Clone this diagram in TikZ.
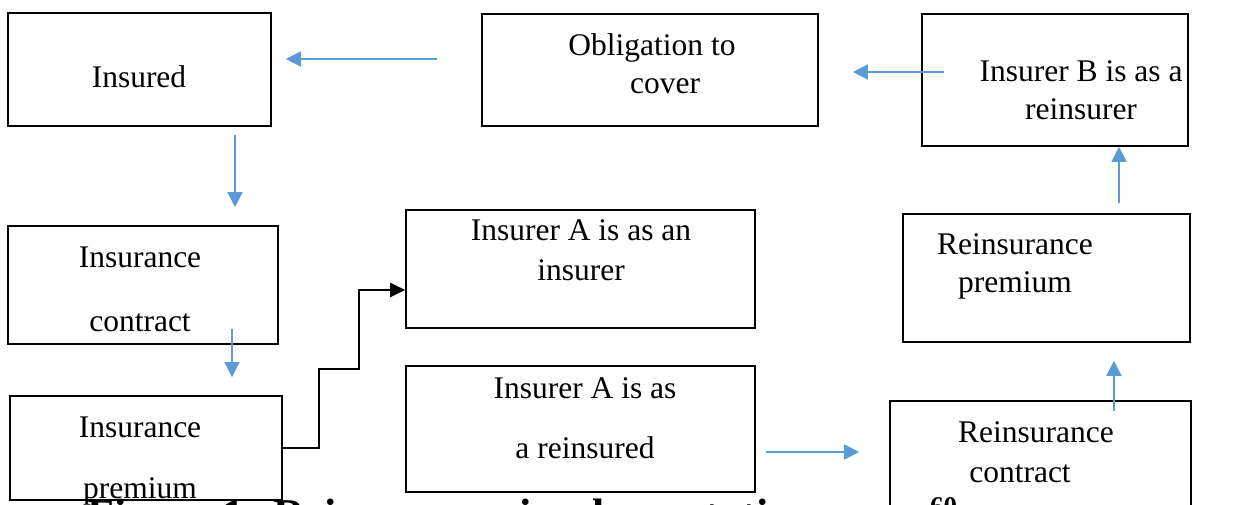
\documentclass[tikz,border=0pt]{standalone}
\usepackage{fontspec}
\setmainfont{Liberation Serif}
\usepackage{tikz}
\usetikzlibrary{shapes,arrows.meta}
\definecolor{arrowblue}{HTML}{5B9BD5}
\tikzstyle{block} = [rectangle, draw, line width=1.6pt, inner sep=0pt]
\tikzstyle{words} = [align=center, anchor=base, font=\fontsize{31.5}{38.5}\selectfont]
\tikzstyle{caption} = [anchor=base west, inner sep=0pt, font=\fontsize{44}{50}\selectfont\bfseries]
\tikzstyle{line} = [draw, arrowblue, line width=1.4pt, -{Triangle[length=15pt,width=15pt]}]
\tikzstyle{stepline} = [draw, black, line width=2.2pt, -{Triangle[length=15pt,width=14pt]}]

\begin{document}
\begin{tikzpicture}[x=1pt, y=-1pt]
    \useasboundingbox (0,0) rectangle (1243,505);
    \clip (0,0) rectangle (1243,505);
    % Place boxes
    \node [block, minimum width=263pt, minimum height=113pt] (insured) at (139.5,69.5) {};
    \node [block, minimum width=336pt, minimum height=112pt] (oblig) at (650,70) {};
    \node [block, minimum width=266pt, minimum height=132pt] (insB) at (1055,80) {};
    \node [block, minimum width=270pt, minimum height=118pt] (icontract) at (143,285) {};
    \node [block, minimum width=349pt, minimum height=118pt] (insA) at (580.5,269) {};
    \node [block, minimum width=287pt, minimum height=128pt] (rpremium) at (1046.5,278) {};
    \node [block, minimum width=272pt, minimum height=104pt] (ipremium) at (146,448) {};
    \node [block, minimum width=349pt, minimum height=126pt] (reinsured) at (580.5,429) {};
    \node [block, minimum width=301pt, minimum height=139pt] (rcontract) at (1040.5,470.5) {};

    % Place texts (base = last line)
    \node [words] (insured-txt) at (139,88) {Insured};
    \node [words] (oblig-txt) at (652,94) {Obligation to\\\hspace*{26pt}cover};
    \node [words] (insB-txt) at (1081,120) {Insurer B is as a\\reinsurer};
    \node [words] (icontract-txt) at (140,331) {Insurance\\[25.5pt]contract};
    \node [words] (insA-txt) at (581,281) {Insurer A is as an\\[1.5pt]insurer};
    \node [words] (rpremium-txt) at (1015,292) {Reinsurance\\[-1.5pt]premium};
    \node [words] (ipremium-txt) at (140,498) {Insurance\\[22.5pt]premium};
    \node [words] (reinsured-txt) at (585,458) {Insurer A is as\\[21.5pt]a reinsured};
    \node [words] (rcontract-txt) at (1036,482) {Reinsurance\\[1.5pt]contract\hspace*{32pt}};
    \node [caption] (fig-txt) at (87,529) {Figure 1: Reinsurance implementation};
    \node [caption, font=\fontsize{27}{30}\selectfont\bfseries] (note-txt) at (930,515) {60};

    % Connectors
    \path [line] ([yshift=11pt]oblig.west) ++(-44,0) -- ([xshift=14pt,yshift=10.5pt]insured.east);
    \path [line] ([xshift=23pt,yshift=8pt]insB.west) -- ([xshift=34pt,yshift=-2pt]oblig.east);
    \path [line] ([xshift=95.5pt,yshift=-8pt]insured.south) -- ([xshift=92pt,yshift=18pt]icontract.north);
    \path [line] ([xshift=89pt,yshift=16pt]icontract.south) -- ([xshift=86pt,yshift=18pt]ipremium.north);
    \path [line] ([xshift=72.5pt,yshift=10pt]rpremium.north) -- ([xshift=64pt]insB.south);
    \path [line] ([xshift=73.5pt,yshift=-11pt]rcontract.north) -- ([xshift=67.5pt,yshift=-18pt]rpremium.south);
    \path [line] ([xshift=10pt,yshift=-23pt]reinsured.east) -- ([xshift=-30pt,yshift=18.5pt]rcontract.west);
    \path [stepline] (ipremium.east) -- ++(36,0) -- ++(0,-79) -- ++(40,0) |- ([yshift=-21pt]insA.west);
\end{tikzpicture}
\end{document}
